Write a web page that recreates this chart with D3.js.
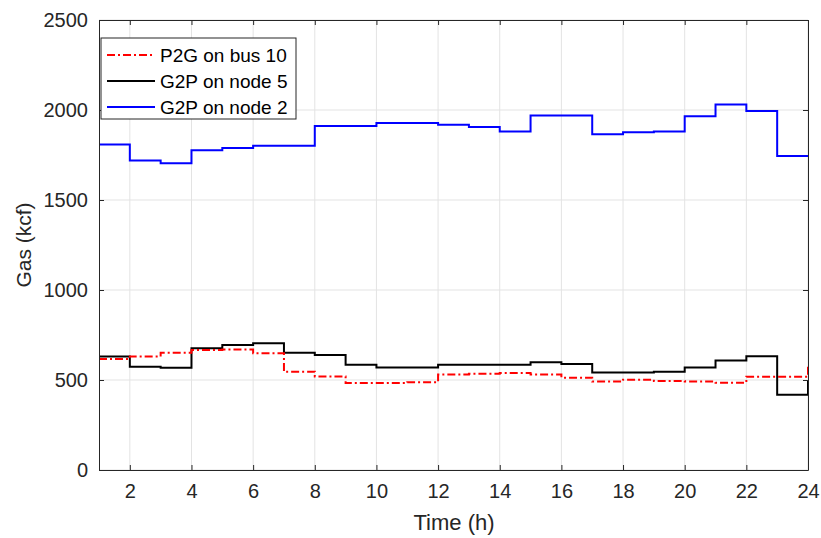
<!DOCTYPE html>
<html>
<head>
<meta charset="utf-8">
<script src="https://cdn.jsdelivr.net/npm/d3@7"></script>
<style>
  body { margin: 0; background: #fff; }
  svg { font-family: "Liberation Sans", Arial, sans-serif; }
</style>
</head>
<body>
<svg id="chart" width="821" height="538"></svg>
<script>
// hours 1..24, stairs plot (value holds until next hour)
var hours = d3.range(1, 25);
var p2gBus10 = [617, 630, 652, 667, 670, 648, 546, 520, 483, 483, 487, 530,
                535, 539, 530, 513, 491, 502, 494, 491, 485, 518, 518, 574];
var g2pNode5 = [630, 574, 568, 676, 694, 704, 652, 639, 585, 570, 570, 585,
                585, 585, 598, 589, 541, 541, 546, 569, 609, 632, 418, 494];
var g2pNode2 = [1809, 1720, 1704, 1776, 1789, 1802, 1802, 1911, 1911, 1928, 1928, 1918,
                1906, 1881, 1970, 1970, 1865, 1876, 1881, 1965, 2030, 1994, 1744, 1744];
var xTicks = [2, 4, 6, 8, 10, 12, 14, 16, 18, 20, 22, 24];
var yTicks = [0, 500, 1000, 1500, 2000, 2500];

var series = [
  {name: "P2G on bus 10", values: p2gBus10, color: "#ff0000", dash: "8,3,2,3"},
  {name: "G2P on node 5", values: g2pNode5, color: "#000000", dash: null},
  {name: "G2P on node 2", values: g2pNode2, color: "#0000ff", dash: null}
];

var svg = d3.select("#chart");
var pLeft = 99, pRight = 808, pTop = 20, pBottom = 470;

var x = d3.scaleLinear().domain([1, 24]).range([pLeft, pRight]);
var y = d3.scaleLinear().domain([0, 2500]).range([pBottom, pTop]);

// grid
var grid = svg.append("g");
grid.selectAll(".vg").data(xTicks).enter().append("line")
  .attr("x1", d => x(d)).attr("x2", d => x(d))
  .attr("y1", pTop).attr("y2", pBottom)
  .attr("stroke", "#e3e3e3").attr("stroke-width", 1);
grid.selectAll(".hg").data(yTicks).enter().append("line")
  .attr("x1", pLeft).attr("x2", pRight)
  .attr("y1", d => y(d)).attr("y2", d => y(d))
  .attr("stroke", "#e3e3e3").attr("stroke-width", 1);

// lines
var line = d3.line()
  .x(function (d, i) { return x(hours[i]); })
  .y(function (d) { return y(d); })
  .curve(d3.curveStepAfter);

svg.append("g").selectAll("path").data(series.slice().reverse()).enter().append("path")
  .attr("d", d => line(d.values))
  .attr("fill", "none")
  .attr("stroke", d => d.color)
  .attr("stroke-width", 2)
  .attr("stroke-dasharray", d => d.dash);

// axes (matlab-like: inward ticks, box)
var axCol = "#262626";
var xAxis = d3.axisBottom(x).tickValues(xTicks).tickSizeInner(-5).tickSizeOuter(0).tickPadding(14);
var yAxis = d3.axisLeft(y).tickValues(yTicks).tickSizeInner(-5).tickSizeOuter(0).tickPadding(11).tickFormat(d3.format("d"));
var xTop = d3.axisTop(x).tickValues(xTicks).tickSizeInner(-5).tickSizeOuter(0).tickFormat("");
var yRight = d3.axisRight(y).tickValues(yTicks).tickSizeInner(-5).tickSizeOuter(0).tickFormat("");

function styleAxis(g) {
  g.selectAll("path").attr("stroke", axCol).attr("stroke-width", 1);
  g.selectAll("line").attr("stroke", axCol);
  g.selectAll("text").attr("fill", axCol).style("font-size", "20px")
   .style("font-family", "'Liberation Sans', Arial, sans-serif");
}
svg.append("g").attr("transform", "translate(0," + pBottom + ")").call(xAxis).call(styleAxis);
svg.append("g").attr("transform", "translate(" + pLeft + ",0)").call(yAxis).call(styleAxis);
svg.append("g").attr("transform", "translate(0," + pTop + ")").call(xTop).call(styleAxis);
svg.append("g").attr("transform", "translate(" + pRight + ",0)").call(yRight).call(styleAxis);

// axis labels
svg.append("text").attr("x", 454).attr("y", 530)
  .attr("text-anchor", "middle").attr("fill", axCol).style("font-size", "22px")
  .text("Time (h)");
svg.append("text").attr("transform", "translate(31," + (pTop + pBottom) / 2 + ") rotate(-90)")
  .attr("text-anchor", "middle").attr("fill", axCol).style("font-size", "21px")
  .text("Gas (kcf)");

// legend
var lg = svg.append("g");
lg.append("rect").attr("x", 101).attr("y", 38).attr("width", 195).attr("height", 81)
  .attr("fill", "#fff").attr("stroke", axCol).attr("stroke-width", 1);
var items = lg.selectAll(".item").data(series).enter().append("g")
  .attr("transform", (d, i) => "translate(0," + (55 + i * 26) + ")");
items.append("line").attr("x1", 107).attr("x2", 155).attr("y1", 0).attr("y2", 0)
  .attr("stroke", d => d.color).attr("stroke-width", 2)
  .attr("stroke-dasharray", d => d.dash);
items.append("text").attr("x", 160).attr("y", 0).attr("dy", "0.35em")
  .attr("fill", "#000").style("font-size", "19px").text(d => d.name);
</script>
</body>
</html>
